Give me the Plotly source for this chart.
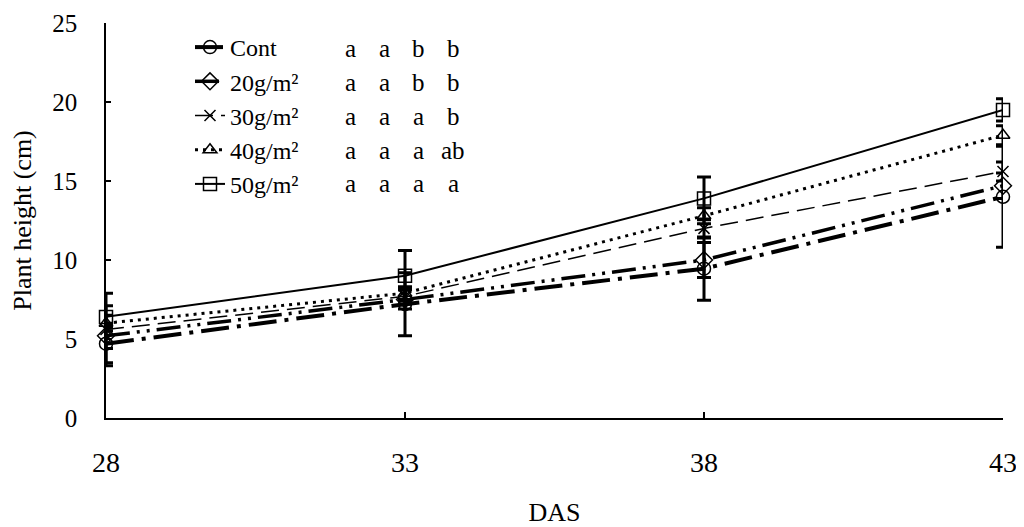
import plotly.graph_objects as go

das = [28, 33, 38, 43]
series_names = ["Cont", "20g/m²", "30g/m²", "40g/m²", "50g/m²"]
cont = [4.7, 7.2, 9.45, 14.0]
g20 = [5.2, 7.5, 10.0, 14.7]
g30 = [5.6, 7.7, 12.0, 15.6]
g40 = [6.0, 7.9, 12.8, 17.9]
g50 = [6.4, 9.0, 13.9, 19.5]
err_cont = [1.2, 2.0, 2.0, 3.2]
err_20 = [0.8, 0.6, 1.1, 0.8]
err_30 = [2.3, 0.5, 0.6, 0.6]
err_40 = [0.5, 0.4, 0.5, 0.6]
err_50 = [0.7, 1.6, 1.35, 0.7]
letters = [
    ["a", "a", "b", "b"],
    ["a", "a", "b", "b"],
    ["a", "a", "a", "b"],
    ["a", "a", "a", "ab"],
    ["a", "a", "a", "a"],
]
y_ticks = [0, 5, 10, 15, 20, 25]

values = [cont, g20, g30, g40, g50]
errors = [err_cont, err_20, err_30, err_40, err_50]
styles = [
    dict(width=4, dash="28px,8px,4px,8px", symbol="circle-open", size=13),
    dict(width=3.5, dash="24px,7px,3px,7px,3px,7px", symbol="diamond-open", size=13),
    dict(width=1.5, dash="18px,8px", symbol="x-thin-open", size=11),
    dict(width=3, dash="3px,5px", symbol="triangle-up-open", size=12),
    dict(width=2, dash="solid", symbol="square-open", size=13),
]

FONT = "Liberation Serif"
fig = go.Figure()
for name, vals, errs, st in zip(series_names, values, errors, styles):
    fig.add_trace(go.Scatter(
        x=das, y=vals, name=name, mode="lines+markers",
        line=dict(color="black", width=st["width"], dash=st["dash"]),
        marker=dict(symbol=st["symbol"], size=st["size"], color="black",
                    line=dict(color="black", width=1.5)),
        error_y=dict(type="data", array=errs, visible=True, color="black",
                     thickness=3, width=7),
        cliponaxis=False,
    ))

# figure sits at page offset (8, 8); plot area in figure px: x 98..995, y 15..410
W, H = 1016, 519
L, R, T, B = 98, 21, 15, 109
pw, ph = W - L - R, H - T - B


def px_x(x):
    return (x - L) / pw


def px_y(y):
    return (H - B - y) / ph


col_px = [342, 376, 410, 445]
row_px = [40, 74, 108, 142, 175]
for r, row in enumerate(letters):
    for c, txt in enumerate(row):
        fig.add_annotation(
            x=px_x(col_px[c]), y=px_y(row_px[r]),
            xref="paper", yref="paper", text=txt, showarrow=False,
            xanchor="center", yanchor="middle",
            font=dict(family=FONT, size=25, color="black"),
        )

fig.update_layout(
    width=W, height=H,
    margin=dict(l=L, r=R, t=T, b=B),
    paper_bgcolor="white", plot_bgcolor="white",
    font=dict(family=FONT, size=26, color="black"),
    showlegend=True,
    legend=dict(x=px_x(182), y=px_y(17), xanchor="left", yanchor="top",
                bgcolor="rgba(0,0,0,0)", font=dict(family=FONT, size=24),
                tracegroupgap=0),
    xaxis=dict(range=[28, 43], tickvals=das, ticktext=[str(d) for d in das],
               showgrid=False, zeroline=False, showline=True, linecolor="black",
               linewidth=1.5, ticks="inside", ticklen=6, tickcolor="black",
               tickwidth=1.5, ticklabelstandoff=19, automargin=False,
               ticklabeloverflow="allow", tickfont=dict(size=28),
               title=dict(text="DAS", standoff=34, font=dict(size=26))),
    yaxis=dict(range=[0, 25], tickvals=y_ticks, showgrid=False, zeroline=False,
               showline=True, linecolor="black", linewidth=1.5, ticks="inside",
               ticklen=5, tickcolor="black", tickwidth=1.5, ticklabelstandoff=22,
               automargin=False, ticklabeloverflow="allow", tickfont=dict(size=25),
               title=dict(text="Plant height (cm)", standoff=18, font=dict(size=26))),
)

fig.write_html("out.html")
